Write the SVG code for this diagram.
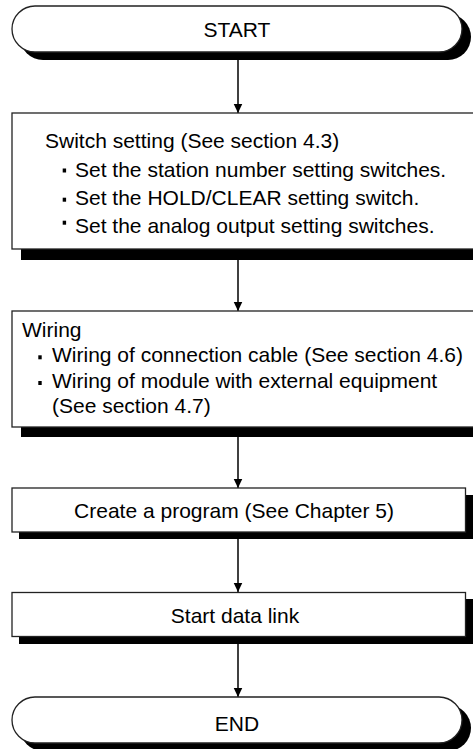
<svg xmlns="http://www.w3.org/2000/svg" width="473" height="749" viewBox="0 0 473 749">
  <defs>
    <marker id="arrowhead" markerWidth="10" markerHeight="10" refX="9.5" refY="5" orient="auto" markerUnits="userSpaceOnUse">
      <path d="M0,0.5 L9.5,5 L0,9.5 Z" fill="#000"/>
    </marker>
    <style>
      .box { fill: #fff; stroke: #222; stroke-width: 1.3; }
      .shadow { fill: #000; stroke: none; }
      .label { font-family: "Liberation Sans", Arial, sans-serif; font-size: 21px; fill: #000; }
      .mid { text-anchor: middle; }
      .bullet { fill: #000; }
      .connector { stroke: #000; stroke-width: 1.5; fill: none; marker-end: url(#arrowhead); }
    </style>
  </defs>
  <rect width="473" height="749" fill="#fff"/>

  <!-- flow connectors -->
  <g id="connectors">
    <line class="connector" x1="238" y1="60" x2="238" y2="113"/>
    <line class="connector" x1="238" y1="259" x2="238" y2="311"/>
    <line class="connector" x1="238" y1="437" x2="238" y2="488"/>
    <line class="connector" x1="238" y1="539" x2="238" y2="592"/>
    <line class="connector" x1="238" y1="644" x2="238" y2="697"/>
  </g>

  <!-- start terminal -->
  <g id="start">
    <rect class="shadow" x="20" y="14" width="451" height="46" rx="23"/>
    <rect class="box" x="12" y="6" width="450" height="46" rx="23"/>
    <text class="label mid" x="237" y="37">START</text>
  </g>

  <!-- switch setting step -->
  <g id="switch-setting">
    <rect class="shadow" x="21" y="123" width="470" height="137"/>
    <rect class="box" x="12" y="113" width="470" height="136"/>
    <text class="label" x="45" y="148">Switch setting (See section 4.3)</text>
    <rect class="bullet" x="62.7" y="168.5" width="3.4" height="4"/>
    <text class="label" x="75" y="176.5">Set the station number setting switches.</text>
    <rect class="bullet" x="62.7" y="197.7" width="3.4" height="4"/>
    <text class="label" x="75" y="205">Set the HOLD/CLEAR setting switch.</text>
    <rect class="bullet" x="62.7" y="220.7" width="3.4" height="4"/>
    <text class="label" x="75" y="233">Set the analog output setting switches.</text>
  </g>

  <!-- wiring step -->
  <g id="wiring">
    <rect class="shadow" x="21" y="321" width="470" height="116"/>
    <rect class="box" x="12" y="311" width="470" height="116"/>
    <text class="label" x="22" y="336.5">Wiring</text>
    <rect class="bullet" x="38.3" y="355.3" width="3.4" height="4"/>
    <text class="label" x="52" y="362">Wiring of connection cable (See section 4.6)</text>
    <rect class="bullet" x="38.3" y="381" width="3.4" height="4"/>
    <text class="label" x="52" y="387.5">Wiring of module with external equipment</text>
    <text class="label" x="52" y="412.5">(See section 4.7)</text>
  </g>

  <!-- program creation step -->
  <g id="create-program">
    <rect class="shadow" x="19" y="495" width="454" height="44"/>
    <rect class="box" x="12" y="488" width="453.5" height="44"/>
    <text class="label mid" x="234" y="518">Create a program (See Chapter 5)</text>
  </g>

  <!-- data link step -->
  <g id="start-data-link">
    <rect class="shadow" x="19" y="599" width="454" height="45"/>
    <rect class="box" x="12" y="592.5" width="453.5" height="44"/>
    <text class="label mid" x="235" y="623">Start data link</text>
  </g>

  <!-- end terminal -->
  <g id="end">
    <rect class="shadow" x="20" y="705" width="451" height="46" rx="23"/>
    <rect class="box" x="12" y="697" width="450" height="46" rx="23"/>
    <text class="label mid" x="237" y="730.5">END</text>
  </g>
</svg>
